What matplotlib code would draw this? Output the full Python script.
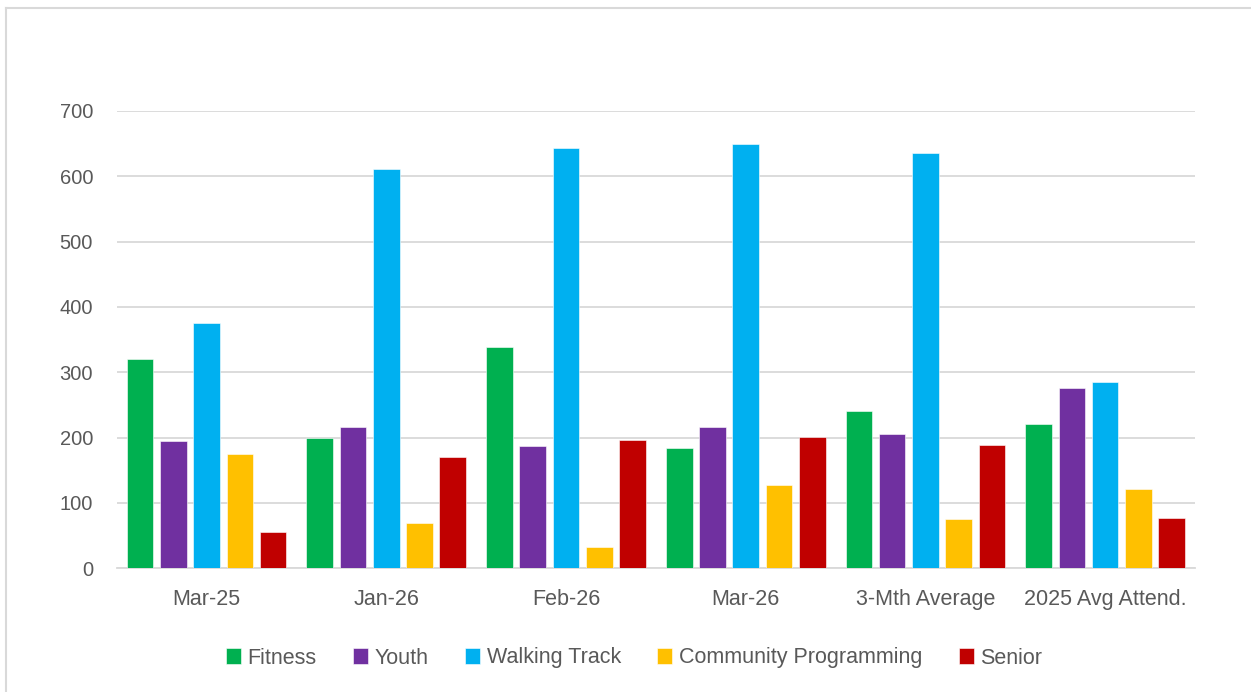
import matplotlib
matplotlib.use('Agg')
import matplotlib.pyplot as plt
import numpy as np
from matplotlib.lines import Line2D

# ── Données ──────────────────────────────────────────────────────────────────
categories = ['Mar-25', 'Jan-26', 'Feb-26', 'Mar-26', '3-Mth Average', '2025 Avg Attend.']
fitness   = [320, 200, 338, 184, 241, 221]
youth     = [195, 216, 187, 216, 206, 276]
walking   = [376, 611, 643, 650, 635, 285]
community = [175, 69, 33, 128, 76, 121]
senior    = [56, 170, 196, 201, 189, 77]

series = [('Fitness', fitness, '#00B050'),
          ('Youth', youth, '#7030A0'),
          ('Walking Track', walking, '#00B0F0'),
          ('Community Programming', community, '#FFC000'),
          ('Senior', senior, '#C00000')]

plt.rcParams['font.family'] = ['Liberation Sans', 'DejaVu Sans']

W, H = 1251, 692
fig = plt.figure(figsize=(W / 100, H / 100), dpi=100)
ax = fig.add_axes([116.7 / W, 1 - 568.3 / H, (1195 - 116.7) / W, (568.3 - 111) / H])

x = np.arange(len(categories))
step, width = 0.185, 0.148
for i, (name, vals, col) in enumerate(series):
    ax.bar(x + (i - 2) * step, vals, width=width, color=col, label=name,
           edgecolor='white', linewidth=0.4, zorder=3)

ax.set_xlim(-0.5, len(categories) - 0.5)
ax.set_ylim(0, 700)
ax.set_yticks(range(0, 701, 100))
ax.grid(True, axis='y', color='#D9D9D9', linewidth=1.3, zorder=0)
for s in ['top', 'right', 'left']:
    ax.spines[s].set_visible(False)
ax.spines['bottom'].set_color('#D9D9D9')
ax.spines['bottom'].set_linewidth(1.3)
ax.set_xticks(x)
ax.set_xticklabels(categories)
ax.tick_params(axis='both', length=0, labelcolor='#595959')
ax.tick_params(axis='y', pad=17, labelsize=14.5)
ax.tick_params(axis='x', pad=15, labelsize=15.5)

fig.legend(loc='center', bbox_to_anchor=(634 / W, 1 - 658 / H), ncol=5,
           frameon=False, fontsize=15.5, handlelength=0.7, handleheight=0.7,
           handletextpad=0.3, columnspacing=1.7, labelcolor='#595959')

# cadre du graphique (bord gauche et haut visibles)
fig.add_artist(Line2D([5.5 / W, 5.5 / W], [0, 1 - 7.5 / H], color='#D9D9D9', linewidth=1.5))
fig.add_artist(Line2D([5.5 / W, 1], [1 - 7.5 / H, 1 - 7.5 / H], color='#D9D9D9', linewidth=1.5))

plt.savefig('out.png', dpi=100)
